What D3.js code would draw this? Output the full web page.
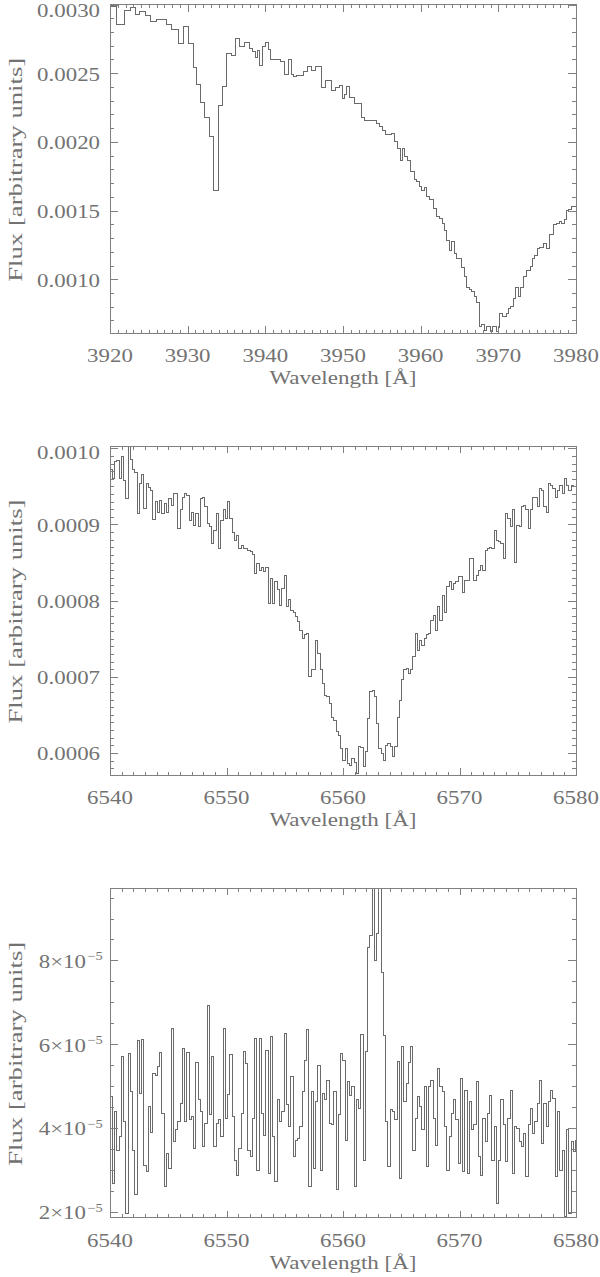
<!DOCTYPE html>
<html><head><meta charset="utf-8">
<script src="https://cdn.jsdelivr.net/npm/d3@7"></script>
<style>body{margin:0;background:#fff}svg{display:block}</style>
</head><body>
<svg id="c" width="600" height="1277"></svg>
<script>
// ---------- DATA ----------
// Panel 1: Ca II H&K region (bin left edges, flux)
const wave1 = [3920.00,3920.86,3921.85,3922.58,3923.22,3923.86,3924.59,3925.24,3926.01,3927.30,
3927.94,3928.80,3929.44,3930.09,3930.73,3931.16,3931.59,3932.15,3932.79,3933.39,
3933.95,3934.51,3935.02,3935.67,3936.22,3936.65,3937.30,3937.94,3938.37,3938.67,
3938.97,3939.31,3939.66,3940.04,3940.43,3940.69,3941.89,3942.45,3942.96,3943.39,
3943.61,3944.03,3944.89,3945.41,3945.97,3946.52,3947.17,3947.81,3948.54,3948.97,
3949.61,3949.96,3950.13,3950.47,3950.90,3951.42,3952.40,3952.82,3954.33,3954.68,
3955.11,3955.41,3956.27,3956.61,3956.99,3957.34,3957.68,3957.98,3958.28,3958.63,
3959.18,3959.48,3959.91,3960.13,3960.43,3960.69,3961.20,3961.63,3962.06,3962.40,
3962.83,3963.05,3963.35,3963.69,3963.99,3964.33,3964.64,3965.28,3965.62,3965.92,
3966.27,3966.57,3966.87,3967.21,3967.55,3967.85,3968.20,3968.50,3968.93,3969.23,
3969.79,3970.00,3970.21,3970.56,3970.99,3971.29,3971.59,3971.93,3972.27,3972.58,
3972.88,3973.22,3973.65,3974.08,3974.42,3974.72,3975.02,3975.36,3975.79,3976.22,
3976.65,3977.08,3977.51,3977.85,3978.15,3978.58,3978.80,3979.01,3979.44];
const flux1 = [0.002988,0.002857,0.002959,0.002978,0.002929,0.002946,0.002922,0.002874,0.002891,0.002857,
0.002818,0.002716,0.002842,0.002716,0.002539,0.002420,0.002284,0.002177,0.002041,0.001644,
0.002267,0.002405,0.002643,0.002631,0.002752,0.002697,0.002726,0.002680,0.002655,0.002614,
0.002662,0.002558,0.002692,0.002721,0.002672,0.002599,0.002582,0.002493,0.002599,0.002493,
0.002478,0.002485,0.002510,0.002546,0.002517,0.002551,0.002396,0.002444,0.002376,0.002396,
0.002413,0.002316,0.002345,0.002405,0.002320,0.002279,0.002177,0.002153,0.002134,0.002109,
0.002080,0.002054,0.002061,0.002000,0.001952,0.001867,0.001952,0.001891,0.001867,0.001782,
0.001729,0.001709,0.001673,0.001648,0.001668,0.001605,0.001581,0.001515,0.001454,0.001442,
0.001406,0.001357,0.001285,0.001212,0.001272,0.001188,0.001151,0.001086,0.001017,0.000940,
0.000926,0.000908,0.000872,0.000828,0.000654,0.000673,0.000630,0.000654,0.000617,0.000654,
0.000617,0.000649,0.000751,0.000726,0.000751,0.000787,0.000804,0.000860,0.000940,0.000872,
0.000940,0.001023,0.001066,0.001095,0.001151,0.001176,0.001224,0.001231,0.001260,0.001224,
0.001328,0.001401,0.001406,0.001418,0.001406,0.001435,0.001503,0.001508,0.001527];

// Panel 2: H-alpha absorption (uniform bins from 6540 A)
const wave2Start = 6540, wave2Step = 0.194;
const flux2 = [
0.000972,0.000960,0.000982,0.000984,0.000960,0.000989,0.000958,0.000934,0.001002,0.000985,
0.000972,0.000968,0.000915,0.000954,0.000965,0.000921,0.000954,0.000949,0.000945,0.000906,
0.000930,0.000916,0.000932,0.000914,0.000927,0.000916,0.000934,0.000925,0.000940,0.000940,
0.000895,0.000919,0.000936,0.000940,0.000938,0.000905,0.000916,0.000899,0.000914,0.000897,
0.000934,0.000936,0.000923,0.000901,0.000897,0.000875,0.000892,0.000914,0.000868,0.000905,
0.000919,0.000908,0.000930,0.000908,0.000890,0.000879,0.000886,0.000868,0.000873,0.000868,
0.000868,0.000866,0.000864,0.000860,0.000836,0.000849,0.000840,0.000844,0.000838,0.000844,
0.000796,0.000829,0.000796,0.000825,0.000814,0.000794,0.000816,0.000833,0.000792,0.000801,
0.000787,0.000785,0.000779,0.000772,
0.000761,0.000750,0.000755,0.000757,0.000700,0.000709,0.000709,0.000748,0.000730,0.000709,
0.000691,0.000676,0.000674,0.000665,0.000647,0.000643,0.000628,0.000623,0.000606,0.000590,
0.000606,0.000586,0.000584,0.000593,0.000588,0.000573,0.000608,0.000607,0.000582,0.000602,
0.000645,0.000680,0.000682,0.000674,0.000639,0.000606,0.000599,0.000590,0.000610,0.000612,
0.000608,0.000595,0.000608,0.000647,0.000669,0.000696,0.000709,0.000711,0.000704,0.000710,
0.000726,0.000757,0.000735,0.000748,0.000741,0.000750,0.000755,0.000757,
0.000774,0.000780,0.000761,0.000792,0.000774,0.000807,0.000785,0.000818,0.000825,0.000814,
0.000822,0.000825,0.000831,0.000831,0.000810,0.000827,0.000827,0.000855,0.000855,0.000827,
0.000833,0.000840,0.000846,0.000840,0.000866,0.000868,0.000870,0.000868,0.000892,0.000879,
0.000877,0.000875,0.000855,0.000914,0.000908,0.000897,0.000919,0.000850,0.000899,0.000897,
0.000923,0.000925,0.000919,0.000895,0.000919,0.000936,0.000936,0.000923,0.000947,0.000945,
0.000923,0.000916,0.000954,0.000951,0.000947,0.000936,0.000945,0.000951,0.000940,0.000960,
0.000951,0.000945,0.000951,0.000950];

// Panel 3: residual emission (units of 1e-5, uniform bins from 6540 A)
const wave3Start = 6540, wave3Step = 0.194, flux3Unit = 1e-5;
const flux3 = [
4.74,2.68,4.39,3.47,3.79,5.70,4.15,1.96,5.78,4.86,
3.47,2.40,6.08,4.82,6.10,3.11,2.95,4.50,3.90,5.30,
5.26,5.46,5.80,4.35,2.60,3.39,3.03,6.38,3.67,3.95,
4.15,4.59,5.90,4.15,5.80,4.19,4.27,3.51,5.56,4.67,
4.39,3.55,4.11,6.93,4.31,5.70,3.55,4.11,4.19,3.79,
6.37,4.23,4.80,5.76,4.27,3.23,2.87,3.51,4.35,5.82,
5.54,3.47,3.31,4.23,6.14,2.99,6.14,4.35,3.83,5.86,
2.91,6.19,3.79,2.72,4.67,4.15,4.39,6.26,4.55,4.03,
5.22,3.31,3.71,3.75,
4.03,4.86,5.62,6.35,2.60,4.86,3.03,4.63,5.50,2.99,
4.82,4.67,5.14,4.11,4.07,4.86,2.52,4.31,5.78,5.60,
3.71,5.10,4.78,4.98,2.60,4.67,4.47,6.24,3.23,5.82,
8.30,8.60,10.5,8.00,8.65,10.5,7.70,6.20,
4.15,3.07,4.43,4.39,4.19,5.58,2.80,5.95,4.63,5.06,
5.56,5.94,3.47,4.23,4.74,4.51,3.95,4.98,3.07,4.98,
5.14,4.23,3.59,5.42,4.98,4.86,4.03,2.99,3.79,4.35,
4.67,4.19,3.15,5.18,2.95,4.90,2.91,4.63,3.95,4.07,
5.10,3.31,2.87,4.23,3.67,4.35,4.78,3.23,4.03,2.20,
3.23,4.67,4.07,3.19,4.23,4.90,2.91,4.03,3.99,3.67,
3.55,3.87,2.83,4.07,4.47,3.87,4.15,4.59,5.14,3.63,
4.59,4.03,4.63,4.90,4.70,2.83,4.39,2.99,3.47,1.88,
3.95,1.96,3.67,3.43,3.71,2.52,3.31];

// Tick values / labels
const xTicks1 = [3920,3930,3940,3950,3960,3970,3980];
const xTicks2 = [6540,6550,6560,6570,6580];
const yTicks1 = [0.0010,0.0015,0.0020,0.0025,0.0030];
const yLabels1 = ["0.0010","0.0015","0.0020","0.0025","0.0030"];
const yTicks2 = [0.0006,0.0007,0.0008,0.0009,0.0010];
const yLabels2 = ["0.0006","0.0007","0.0008","0.0009","0.0010"];
const yTicks3 = [2e-5,4e-5,6e-5,8e-5];
const yMant3 = ["2","4","6","8"];
const yExp3 = "\u22125";
const xTitle = "Wavelength [\u00c5]";
const yTitle = "Flux [arbitrary units]";

// ---------- BUILD ----------
const wave2 = flux2.map((_, i) => wave2Start + i * wave2Step);
const wave3 = flux3.map((_, i) => wave3Start + i * wave3Step);
const data1 = wave1.map((w, i) => [w, flux1[i]]);
const data2 = wave2.map((w, i) => [w, flux2[i]]);
const data3 = wave3.map((w, i) => [w, flux3[i] * flux3Unit]);

const L = 110, R = 576;
const panels = [
  {top: 4.5, bottom: 333, xd: [3920, 3980], yd: [0.000609, 0.0030], data: data1, endX: 3980,
   xt: xTicks1, xm: 1, yt: yTicks1, ym: 0.0001, yl: yLabels1},
  {top: 446, bottom: 775, xd: [6540, 6580], yd: [0.000571, 0.001003], data: data2, endX: null,
   xt: xTicks2, xm: 1, yt: yTicks2, ym: 0.00001, yl: yLabels2},
  {top: 888, bottom: 1217.5, xd: [6540, 6580], yd: [1.86e-5, 9.73e-5], data: data3, endX: null,
   xt: xTicks2, xm: 1, yt: yTicks3, ym: 0.5e-5, yl: null}
];

const GRAY_AX = "#808080", GRAY_TX = "#727272", GRAY_LN = "#6a6a6a";
const FONT = "'Liberation Serif', 'Times New Roman', serif";
const svg = d3.select("#c");

function stretch(sel, k) {
  sel.each(function () {
    const w = this.getComputedTextLength();
    d3.select(this).attr("textLength", w * k).attr("lengthAdjust", "spacingAndGlyphs");
  });
}
function rangeTicks(a, b, s) {
  const out = [];
  const start = Math.ceil(a / s - 1e-6);
  for (let k = start; k * s <= b + s * 1e-6; k++) out.push(+(k * s).toPrecision(10));
  return out;
}

panels.forEach((p, pi) => {
  const x = d3.scaleLinear().domain(p.xd).range([L, R]);
  const y = d3.scaleLinear().domain(p.yd).range([p.bottom, p.top]);
  const g = svg.append("g");

  const cid = "clip" + pi;
  svg.append("clipPath").attr("id", cid).append("rect")
    .attr("x", L).attr("y", p.top).attr("width", R - L).attr("height", p.bottom - p.top);

  // trace
  const pts = p.data.slice();
  const last = pts[pts.length - 1];
  const stepW = pts.length > 1 ? pts[pts.length - 1][0] - pts[pts.length - 2][0] : 0;
  pts.push([p.endX != null ? p.endX : last[0] + stepW, last[1]]);
  const line = d3.line().x(d => x(d[0])).y(d => y(d[1])).curve(d3.curveStepAfter);
  g.append("path").attr("d", line(pts)).attr("fill", "none")
    .attr("stroke", GRAY_LN).attr("stroke-width", 1)
    .attr("shape-rendering", "crispEdges").attr("clip-path", `url(#${cid})`);

  // axes ticks (inward, all four sides)
  const xMinor = rangeTicks(p.xd[0], p.xd[1], p.xm);
  const yMinor = rangeTicks(p.yd[0], p.yd[1], p.ym);
  const axes = [
    [d3.axisBottom(x), p.bottom, "x", xMinor, p.xt, 3.5, 7],
    [d3.axisTop(x), p.top, "x", xMinor, p.xt, 3.5, 7],
    [d3.axisLeft(y), L, "y", yMinor, p.yt, 4, 8],
    [d3.axisRight(y), R, "y", yMinor, p.yt, 4, 8]
  ];
  axes.forEach(([ax, pos, dir, minor, major, ms, Ms]) => {
    const tr = dir === "x" ? `translate(0,${pos})` : `translate(${pos},0)`;
    const mk = (vals, size) => {
      const a = ax.tickValues(vals).tickSize(-size).tickSizeOuter(0).tickFormat("");
      const gg = g.append("g").attr("transform", tr).call(a);
      gg.select(".domain").remove();
      gg.selectAll("line").attr("stroke", GRAY_AX).attr("shape-rendering", "crispEdges");
    };
    mk(minor, ms);
    mk(major, Ms);
  });

  // frame
  g.append("rect").attr("x", L).attr("y", p.top).attr("width", R - L).attr("height", p.bottom - p.top)
    .attr("fill", "none").attr("stroke", GRAY_AX).attr("stroke-width", 1).attr("shape-rendering", "crispEdges");

  // x tick labels
  const xl = g.append("g").selectAll("text").data(p.xt).join("text")
    .attr("x", d => x(d)).attr("y", p.bottom + 29).attr("text-anchor", "middle")
    .attr("font-family", FONT).attr("font-size", 18).attr("fill", GRAY_TX)
    .text(d => d3.format("d")(d));
  stretch(xl, 1.27);

  // y tick labels
  const baseY = v => Math.max(y(v) + 7.5, p.top + 12.5);
  if (p.yl) {
    const yl = g.append("g").selectAll("text").data(p.yt).join("text")
      .attr("x", 100).attr("y", d => baseY(d)).attr("text-anchor", "end")
      .attr("font-family", FONT).attr("font-size", 18).attr("fill", GRAY_TX)
      .text((d, i) => p.yl[i]);
    stretch(yl, 1.27);
  } else {
    const gl = g.append("g");
    p.yt.forEach((v, i) => {
      const t = gl.append("text").attr("x", 86).attr("y", baseY(v)).attr("text-anchor", "end")
        .attr("font-family", FONT).attr("font-size", 18).attr("fill", GRAY_TX)
        .text(yMant3[i] + "\u00d710");
      stretch(t, 1.27);
      const s = gl.append("text").attr("x", 87.5).attr("y", baseY(v) - 7.5).attr("text-anchor", "start")
        .attr("font-family", FONT).attr("font-size", 12).attr("fill", GRAY_TX)
        .text(yExp3);
      stretch(s, 1.2);
    });
  }

  // titles
  g.append("text").attr("x", (L + R) / 2).attr("y", p.bottom + 51).attr("text-anchor", "middle")
    .attr("font-family", FONT).attr("font-size", 18).attr("fill", GRAY_TX)
    .attr("textLength", 147).attr("lengthAdjust", "spacingAndGlyphs").text(xTitle);
  const cy = (p.top + p.bottom) / 2 + 1;
  g.append("text").attr("transform", `translate(21.5,${cy}) rotate(-90)`).attr("text-anchor", "middle")
    .attr("font-family", FONT).attr("font-size", 18).attr("fill", GRAY_TX)
    .attr("textLength", 224).attr("lengthAdjust", "spacingAndGlyphs").text(yTitle);
});
</script>
</body></html>
